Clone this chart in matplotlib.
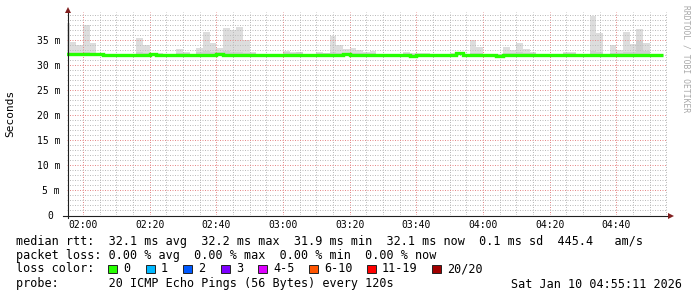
import numpy as np
import pandas as pd
import matplotlib
matplotlib.use("Agg")
import matplotlib.pyplot as plt
import matplotlib.dates as mdates
from matplotlib.ticker import MultipleLocator
from matplotlib.patches import Rectangle

plt.rcParams['font.family'] = ['DejaVu Sans Mono']

W, H = 697, 297

# one column per 120 s step, first step starts 01:54
t_start = "2026-01-10 01:54"
t_view = ("2026-01-10 01:55:11", "2026-01-10 04:55:11")

# median rtt per step (ms)
median_ms = [
    32.15, 32.15, 32.15, 32.15, 32.15, 32.15, 32.05, 32.05, 32.1, 32.1,
    32.1, 32.1, 32.1, 32.15, 32.1, 32.1, 32.1, 32.1, 32.05, 32.1,
    32.1, 32.1, 32.1, 32.15, 32.1, 32.1, 32.1, 32.1, 32.05, 32.05,
    32.05, 32.1, 32.1, 32.1, 32.1, 32.1, 32.1, 32.1, 32.1, 32.1,
    32.1, 32.1, 32.15, 32.1, 32.1, 32.1, 32.1, 32.1, 32.1, 32.1,
    32.1, 32.1, 31.85, 32.1, 32.1, 32.1, 32.1, 32.1, 32.1, 32.35,
    32.1, 32.1, 32.1, 32.1, 32.1, 31.9, 32.1, 32.1, 32.1, 32.1,
    32.1, 32.1, 32.1, 32.1, 32.1, 32.1, 32.1, 32.1, 31.95, 31.95,
    31.95, 31.95, 31.95, 31.95, 31.95, 31.95, 32.1, 32.1, 32.1, 32.1,
]

# smoke: fastest ping, inner band top, slowest ping (ms)
smoke_lo = [
    31.95, 31.95, 31.95, 31.95, 31.95, 31.95, 31.9, 31.9, 31.95, 31.95,
    31.95, 31.95, 31.95, 31.95, 31.95, 31.95, 31.95, 31.95, 31.9, 31.95,
    31.95, 31.95, 31.95, 31.95, 31.95, 31.95, 31.95, 31.95, 31.9, 31.9,
    31.9, 31.95, 31.95, 31.95, 31.95, 31.95, 31.95, 31.95, 31.95, 31.95,
    31.95, 31.95, 31.95, 31.95, 31.95, 31.95, 31.95, 31.95, 31.95, 31.95,
    31.95, 31.95, 31.75, 31.95, 31.95, 31.95, 31.95, 31.95, 31.95, 32.1,
    31.95, 31.95, 31.95, 31.95, 31.95, 31.8, 31.95, 31.95, 31.95, 31.95,
    31.95, 31.95, 31.95, 31.95, 31.95, 31.95, 31.95, 31.95, 31.85, 31.85,
    31.85, 31.85, 31.85, 31.85, 31.85, 31.85, 31.95, 31.95, 32.1, 32.1,
]
smoke_mid = [
    32.6, 32.5, 32.4, 32.6, 32.5, 32.4, 32.3, 32.2, 32.2, 32.2,
    32.3, 32.6, 32.5, 32.3, 32.3, 32.2, 32.2, 32.5, 32.4, 32.2,
    32.6, 32.8, 32.6, 32.6, 32.8, 32.6, 32.7, 32.5, 32.4, 32.2,
    32.2, 32.2, 32.2, 32.7, 32.4, 32.7, 32.3, 32.3, 32.4, 32.4,
    32.6, 32.5, 32.4, 32.5, 32.4, 32.4, 32.4, 32.2, 32.2, 32.2,
    32.2, 32.4, 32.3, 32.3, 32.3, 32.2, 32.2, 32.2, 32.3, 32.4,
    32.2, 32.5, 32.4, 32.2, 32.2, 32.3, 32.5, 32.4, 32.6, 32.5,
    32.4, 32.2, 32.2, 32.3, 32.2, 32.4, 32.4, 32.2, 32.3, 32.8,
    32.6, 32.2, 32.5, 32.4, 32.7, 32.6, 34.8, 32.8, 32.1, 32.1,
]
smoke_hi = [
    38.5, 34.7, 34.0, 38.0, 34.5, 32.5, 32.3, 32.2, 32.2, 32.2,
    32.3, 35.5, 34.0, 32.4, 32.5, 32.2, 32.2, 33.2, 32.7, 32.2,
    33.5, 36.7, 34.5, 33.5, 37.4, 37.0, 37.6, 35.0, 32.6, 32.2,
    32.2, 32.2, 32.2, 32.8, 32.6, 32.5, 32.3, 32.3, 32.7, 32.5,
    35.8, 34.0, 33.3, 33.5, 33.0, 32.6, 32.8, 32.2, 32.2, 32.2,
    32.2, 32.6, 32.4, 32.4, 32.4, 32.2, 32.2, 32.2, 32.4, 32.4,
    32.2, 35.0, 33.7, 32.2, 32.2, 32.3, 33.7, 33.0, 34.5, 33.3,
    32.6, 32.2, 32.2, 32.3, 32.2, 32.6, 32.7, 32.2, 32.3, 39.9,
    36.5, 32.2, 34.0, 33.0, 36.7, 34.3, 37.3, 34.5, 32.1, 32.1,
]

y_ticks = [0, 5, 10, 15, 20, 25, 30, 35]
y_labels = ["0 ", "5 m", "10 m", "15 m", "20 m", "25 m", "30 m", "35 m"]

rtt_line = "median rtt:  32.1 ms avg  32.2 ms max  31.9 ms min  32.1 ms now  0.1 ms sd  445.4   am/s"
loss_line = "packet loss: 0.00 % avg  0.00 % max  0.00 % min  0.00 % now"
probe_line = "probe:       20 ICMP Echo Pings (56 Bytes) every 120s"
stamp = "Sat Jan 10 04:55:11 2026"

loss_labels = ["0", "1", "2", "3", "4-5", "6-10", "11-19", "20/20"]
loss_colors = ["#26ff00", "#00b8ff", "#0059ff", "#7e00ff",
               "#dd00ff", "#ff5500", "#ff0000", "#a10000"]
loss_box_x = [108, 146, 183, 221, 258, 309, 367, 432]

green = loss_colors[0]

edges = pd.date_range(t_start, periods=len(median_ms) + 1, freq="2min")
xe = mdates.date2num(edges.to_pydatetime())
lo = np.array(smoke_lo)
mid = np.array(smoke_mid)
hi = np.array(smoke_hi)

fig = plt.figure(figsize=(W / 100, H / 100), dpi=100)
ax = fig.add_axes([67 / W, 82 / H, 600 / W, 203 / H])

# smoke
ax.bar(xe[:-1], hi - lo, bottom=lo, width=np.diff(xe), align='edge',
       color='#dddddd', linewidth=0, zorder=1)
ax.bar(xe[:-1], mid - lo, bottom=lo, width=np.diff(xe), align='edge',
       color='#cfcfcf', linewidth=0, zorder=1.1)
# median
ax.stairs(median_ms, xe, baseline=None, color=green, lw=2.4, zorder=3)

ax.set_xlim(mdates.datestr2num(t_view[0]), mdates.datestr2num(t_view[1]))
ax.set_ylim(0, 40.6)

ax.xaxis.set_major_locator(mdates.MinuteLocator(byminute=[0, 20, 40]))
ax.xaxis.set_minor_locator(mdates.MinuteLocator(byminute=range(0, 60, 5)))
ax.xaxis.set_major_formatter(mdates.DateFormatter('%H:%M'))
ax.set_yticks(y_ticks)
ax.set_yticklabels(y_labels)
ax.yaxis.set_minor_locator(MultipleLocator(1))
ax.tick_params(which='both', length=0)
ax.tick_params(axis='x', labelsize=7, pad=3.5)
ax.tick_params(axis='y', labelsize=7, pad=5)

ax.grid(which='minor', color='#bcbcbc', lw=0.72, ls=(0, (1, 1.5)))
ax.grid(which='major', color='#e68a8a', lw=0.72, ls=(0, (1, 1.5)))
for s in ax.spines.values():
    s.set_visible(False)

# overlay in pixel coords for axes, arrows and legend
ov = fig.add_axes([0, 0, 1, 1])
ov.set_xlim(0, W)
ov.set_ylim(H, 0)
ov.axis('off')
ov.patch.set_alpha(0)

ov.plot([63, 668], [215.5, 215.5], color='#1f1f1f', lw=0.8)
ov.plot([67.5, 67.5], [218, 11], color='#1f1f1f', lw=0.8)
ov.plot(67.5, 9.5, marker='^', ms=4.5, color='#801f1f', mew=0)
ov.plot(670.5, 215.5, marker='>', ms=4.5, color='#801f1f', mew=0)

ov.text(10, 113, "Seconds", rotation=90, ha='center', va='center', fontsize=8)
ov.text(686, 5, "RRDTOOL / TOBI OETIKER", rotation=270, ha='center', va='top',
        fontsize=5.8, color='#a8a8a8')

fs = 8.5
ov.text(16, 244.5, rtt_line, fontsize=fs, va='baseline')
ov.text(16, 259, loss_line, fontsize=fs, va='baseline')
ov.text(16, 272.5, "loss color:", fontsize=fs, va='baseline')
for bx, lab, col in zip(loss_box_x, loss_labels, loss_colors):
    ov.add_patch(Rectangle((bx, 264.5), 9, 8.5, facecolor=col,
                           edgecolor='#222222', lw=0.7))
    ov.text(bx + 15, 272.5, lab, fontsize=fs, va='baseline')
ov.text(16, 287.5, probe_line, fontsize=fs, va='baseline')
ov.text(682, 287.5, stamp, fontsize=fs, va='baseline', ha='right')

fig.savefig("out.png", dpi=100)
